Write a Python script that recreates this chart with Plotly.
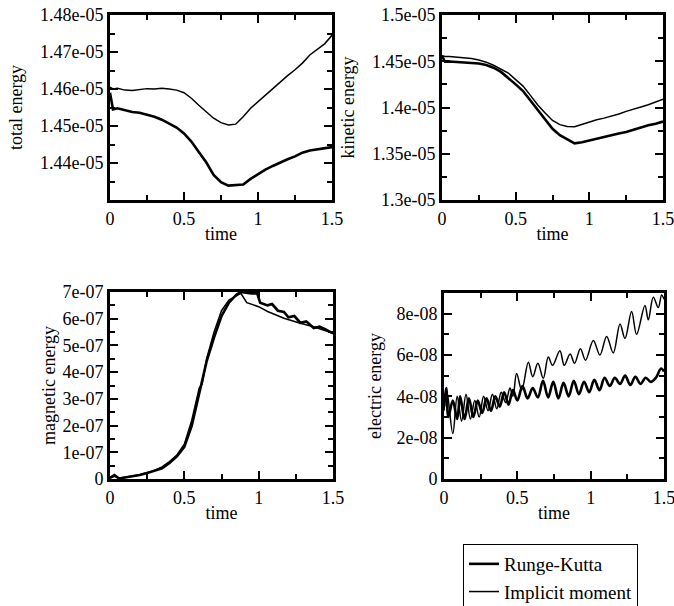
import numpy as np
import plotly.graph_objects as go

# ---------------- data ----------------
# total energy (units of 1e-5)
t_tot = [0, 0.02, 0.05, 0.10, 0.15, 0.20, 0.25, 0.30, 0.35, 0.40, 0.45, 0.50, 0.55, 0.60, 0.65,
         0.70, 0.75, 0.80, 0.85, 0.90, 0.95, 1.00, 1.05, 1.10, 1.15, 1.20, 1.25, 1.30, 1.35,
         1.40, 1.45, 1.50]
tot_rk = [1.4590, 1.4545, 1.4548, 1.4542, 1.4538, 1.4536, 1.4531, 1.4525, 1.4517, 1.4507, 1.4496,
          1.4480, 1.4458, 1.4430, 1.4402, 1.4368, 1.4348, 1.4339, 1.4340, 1.4342, 1.4357, 1.4370,
          1.4382, 1.4392, 1.4402, 1.4410, 1.4418, 1.4428, 1.4434, 1.4437, 1.4441, 1.4443]
tot_im = [1.4605, 1.4600, 1.4602, 1.4597, 1.4596, 1.4599, 1.4601, 1.4600, 1.4602, 1.4600, 1.4597,
          1.4590, 1.4575, 1.4556, 1.4538, 1.4521, 1.4509, 1.4503, 1.4505, 1.4525, 1.4548, 1.4566,
          1.4582, 1.4600, 1.4618, 1.4636, 1.4652, 1.4670, 1.4692, 1.4706, 1.4722, 1.4745]

# kinetic energy (units of 1e-5)
t_kin = t_tot
kin_rk = [1.4560, 1.4495, 1.4497, 1.4492, 1.4488, 1.4484, 1.4475, 1.4460, 1.4430, 1.4385, 1.4320,
          1.4250, 1.4178, 1.4075, 1.3975, 1.3865, 1.3770, 1.3700, 1.3660, 1.3612, 1.3625, 1.3645,
          1.3660, 1.3680, 1.3700, 1.3718, 1.3735, 1.3760, 1.3780, 1.3808, 1.3825, 1.3848]
kin_im = [1.4560, 1.4552, 1.4550, 1.4546, 1.4541, 1.4530, 1.4513, 1.4490, 1.4457, 1.4418, 1.4373,
          1.4302, 1.4231, 1.4131, 1.4028, 1.3940, 1.3860, 1.3815, 1.3795, 1.3792, 1.3820, 1.3845,
          1.3868, 1.3885, 1.3905, 1.3930, 1.3958, 1.3985, 1.4005, 1.4030, 1.4060, 1.4090]

# magnetic energy (units of 1e-7)
t_mag_rk = [0, 0.03, 0.06, 0.10, 0.15, 0.20, 0.25, 0.30, 0.35, 0.40, 0.45, 0.50, 0.55, 0.60, 0.65,
            0.70, 0.75, 0.80, 0.85, 0.88, 0.95, 0.99, 1.01, 1.06, 1.09, 1.13, 1.17, 1.20, 1.24,
            1.28, 1.32, 1.37, 1.41, 1.45, 1.50]
mag_rk = [0.05, 0.15, 0.02, 0.05, 0.10, 0.15, 0.22, 0.30, 0.40, 0.60, 0.85, 1.20, 2.00, 3.20, 4.40,
          5.30, 6.10, 6.60, 6.90, 7.00, 6.95, 6.95, 6.60, 6.50, 6.55, 6.30, 6.25, 6.05, 6.10,
          5.85, 5.90, 5.65, 5.70, 5.60, 5.45]
t_mag_im = [0, 0.03, 0.06, 0.10, 0.15, 0.20, 0.25, 0.30, 0.35, 0.40, 0.45, 0.50, 0.55, 0.60, 0.62,
            0.65, 0.70, 0.75, 0.80, 0.85, 0.88, 0.92, 1.00, 1.06, 1.17, 1.28, 1.37, 1.50]
mag_im = [0.03, 0.10, 0.03, 0.06, 0.10, 0.16, 0.24, 0.32, 0.45, 0.65, 0.90, 1.30, 2.20, 3.40, 3.55,
          4.50, 5.50, 6.30, 6.70, 6.85, 6.95, 6.60, 6.45, 6.27, 6.02, 5.83, 5.70, 5.45]

# electric energy (units of 1e-8)
t_el_rk = [0, 0.015, 0.03, 0.06, 0.09, 0.11, 0.14, 0.17, 0.20, 0.23, 0.26, 0.29, 0.32, 0.35, 0.38,
           0.41, 0.44, 0.47, 0.50, 0.535, 0.57, 0.605, 0.64, 0.675, 0.71, 0.745, 0.78, 0.815,
           0.85, 0.885, 0.92, 0.955, 0.99, 1.025, 1.06, 1.095, 1.13, 1.165, 1.20, 1.235, 1.27,
           1.305, 1.34, 1.375, 1.41, 1.445, 1.48, 1.50]
el_rk = [3.5, 4.4, 3.0, 3.8, 2.9, 4.0, 2.9, 3.9, 3.0, 3.8, 3.2, 3.9, 3.3, 4.0, 3.5, 4.2, 3.6, 4.3,
         3.8, 4.5, 3.9, 4.4, 3.95, 4.75, 3.95, 4.7, 3.9, 4.65, 4.0, 4.75, 4.1, 4.7, 4.2, 4.8, 4.3,
         4.9, 4.5, 4.9, 4.6, 5.0, 4.55, 4.95, 4.6, 4.9, 4.7, 4.9, 5.35, 5.2]
t_el_im = [0, 0.02, 0.06, 0.09, 0.12, 0.15, 0.18, 0.21, 0.24, 0.27, 0.30, 0.33, 0.36, 0.39, 0.42,
           0.45, 0.47, 0.495, 0.53, 0.575, 0.605, 0.64, 0.677, 0.711, 0.74, 0.79, 0.82, 0.86,
           0.89, 0.93, 0.965, 1.018, 1.063, 1.109, 1.154, 1.20, 1.234, 1.279, 1.313, 1.37,
           1.393, 1.427, 1.461, 1.484, 1.50]
el_im = [3.3, 4.2, 2.2, 4.0, 2.8, 4.1, 2.9, 3.8, 3.0, 4.0, 3.3, 4.1, 3.4, 4.2, 3.7, 4.4, 4.0, 5.1,
         4.3, 5.65, 4.95, 5.6, 4.87, 5.9, 5.5, 6.2, 5.5, 6.05, 5.6, 6.3, 5.75, 6.7, 6.0, 6.9, 6.1,
         7.5, 6.8, 8.1, 7.0, 8.4, 7.7, 8.8, 8.3, 8.9, 8.7]

# tick labels
x_ticks = [0, 0.5, 1, 1.5]
x_ticklabels = ["0", "0.5", "1", "1.5"]
tot_ticks = [1.43e-5, 1.44e-5, 1.45e-5, 1.46e-5, 1.47e-5, 1.48e-5]
tot_ticklabels = ["", "1.44e-05", "1.45e-05", "1.46e-05", "1.47e-05", "1.48e-05"]
kin_ticks = [1.30e-5, 1.35e-5, 1.40e-5, 1.45e-5, 1.50e-5]
kin_ticklabels = ["1.3e-05", "1.35e-05", "1.4e-05", "1.45e-05", "1.5e-05"]
mag_ticks = [0, 1e-7, 2e-7, 3e-7, 4e-7, 5e-7, 6e-7, 7e-7]
mag_ticklabels = ["0", "1e-07", "2e-07", "3e-07", "4e-07", "5e-07", "6e-07", "7e-07"]
el_ticks = [0, 2e-8, 4e-8, 6e-8, 8e-8]
el_ticklabels = ["0", "2e-08", "4e-08", "6e-08", "8e-08"]

series_names = ["Runge-Kutta", "Implicit moment"]

# ---------------- figure ----------------
W, H = 674, 606
FONT = "Liberation Serif"
FS = 18
fig = go.Figure()

def px(x0, x1):
    return [x0 / W, x1 / W]

def py(top, bottom):
    return [(H - bottom) / H, (H - top) / H]

panels = [
    ("", px(110, 332), py(15, 200), [1.43e-5, 1.48e-5], tot_ticks, tot_ticklabels, 0.5e-7, "total energy", 13),
    ("2", px(442, 663), py(15, 200), [1.30e-5, 1.50e-5], kin_ticks, kin_ticklabels, 0.25e-6, "kinetic energy", 13),
    ("3", px(110, 333), py(292, 479), [0, 7e-7], mag_ticks, mag_ticklabels, 0.5e-7, "magnetic energy", 3),
    ("4", px(444, 664), py(293, 479), [0, 9e-8], el_ticks, el_ticklabels, 1e-8, "electric energy", 11),
]

data = [
    ((t_tot, np.array(tot_rk) * 1e-5), (t_tot, np.array(tot_im) * 1e-5), "linear"),
    ((t_kin, np.array(kin_rk) * 1e-5), (t_kin, np.array(kin_im) * 1e-5), "linear"),
    ((t_mag_rk, np.array(mag_rk) * 1e-7), (t_mag_im, np.array(mag_im) * 1e-7), "linear"),
    ((t_el_rk, np.array(el_rk) * 1e-8), (t_el_im, np.array(el_im) * 1e-8), "spline"),
]

for i, ((xid, dx, dy, yr, yt, yl, ymin, ytitle, stand), (rk, im, shape)) in enumerate(zip(panels, data)):
    xa = "x" + xid
    ya = "y" + xid
    fig.add_trace(go.Scatter(x=rk[0], y=rk[1], mode="lines", name=series_names[0],
                             line=dict(color="black", width=2.6, shape=shape),
                             xaxis=xa, yaxis=ya, showlegend=(i == 0)))
    fig.add_trace(go.Scatter(x=im[0], y=im[1], mode="lines", name=series_names[1],
                             line=dict(color="black", width=1.5, shape=shape),
                             xaxis=xa, yaxis=ya, showlegend=(i == 0)))
    common = dict(showline=True, linecolor="black", linewidth=3, mirror="allticks",
                  ticks="inside", tickcolor="black", tickwidth=2, ticklen=8,
                  showgrid=False, zeroline=False, automargin=False,
                  ticklabeloverflow="allow",
                  tickfont=dict(family=FONT, size=FS, color="black"))
    xkey = "xaxis" + xid
    ykey = "yaxis" + xid
    fig.layout[xkey] = dict(domain=dx, range=[0, 1.5], anchor=ya,
                            tickvals=x_ticks, ticktext=x_ticklabels,
                            minor=dict(ticks="inside", dtick=0.25, tick0=0, ticklen=5,
                                       tickwidth=2, tickcolor="black"),
                            title=dict(text="time", font=dict(family=FONT, size=FS, color="black"),
                                       standoff=0),
                            **common)
    fig.layout[ykey] = dict(domain=dy, range=yr, anchor=xa,
                            tickvals=yt, ticktext=yl,
                            minor=dict(ticks="inside", dtick=ymin, tick0=0, ticklen=5,
                                       tickwidth=2, tickcolor="black"),
                            title=dict(text=ytitle, font=dict(family=FONT, size=FS, color="black"),
                                       standoff=stand),
                            **common)

fig.update_layout(
    width=W, height=H,
    margin=dict(l=0, r=0, t=0, b=0, autoexpand=False),
    paper_bgcolor="white", plot_bgcolor="white",
    font=dict(family=FONT, size=FS, color="black"),
    legend=dict(x=463 / W, y=1 - 544 / H, xanchor="left", yanchor="top",
                bordercolor="black", borderwidth=1, bgcolor="white",
                font=dict(family=FONT, size=19, color="black"),
                tracegroupgap=0, itemwidth=30),
)

fig.write_html("out.html",
               config={"displayModeBar": False},
               post_script="document.body.style.margin='0';document.body.style.overflow='hidden';")
